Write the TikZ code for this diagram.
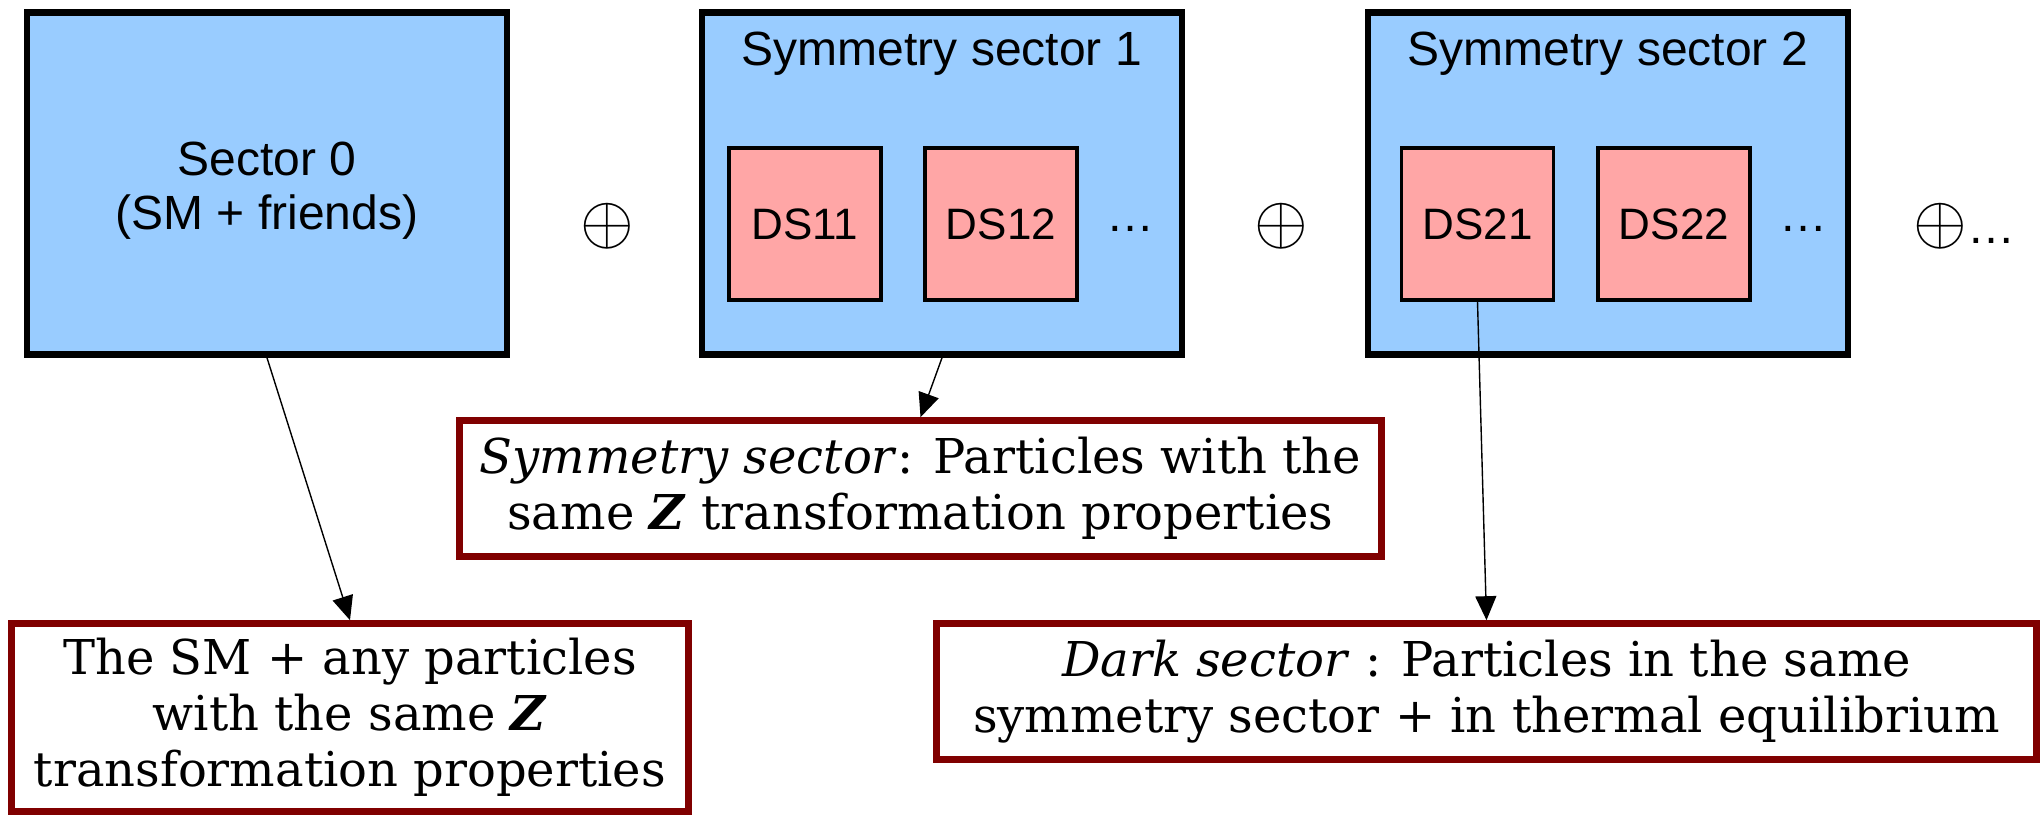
\documentclass[tikz,border=0pt]{standalone}
\usepackage{fontspec}
\setmainfont{DejaVu Serif}
\setsansfont{Liberation Sans}
\usepackage{graphicx}
\usepackage{tikz}
\usetikzlibrary{arrows.meta,positioning}
\usepackage{xcolor}
\definecolor{sectorblue}{HTML}{99CCFF}
\definecolor{dspink}{HTML}{FFA6A6}
\definecolor{notered}{HTML}{800000}
\newcommand{\bigsum}{\scalebox{3.45}{$\oplus$}}
\tikzset{
  sectorbox/.style={draw,line width=3.3pt,fill=sectorblue,minimum width=240pt,minimum height=171pt},
  sectortext/.style={align=center,font=\sffamily\fontsize{24}{27}\selectfont},
  dsbox/.style={draw,line width=1.6pt,fill=dspink,minimum width=76pt,minimum height=76pt,
    font=\sffamily\fontsize{22}{24}\selectfont},
  notebox/.style={draw=notered,line width=3.3pt,fill=white,align=center,
    font=\fontsize{24}{28}\selectfont},
  arr/.style={-{Triangle[length=12pt,width=10.5pt]},line width=0.7pt}
}

\begin{document}
\begin{tikzpicture}[x=0.5pt,y=-0.5pt]
\useasboundingbox (0,0) rectangle (2044,818);
% sectors
\node[sectorbox] (sec0) at (267,183.5) {};
\node[sectorbox] (sec1) at (942,183.5) {};
\node[sectorbox] (sec2) at (1608,183.5) {};
\node[sectortext] (title0) at (267,191) {Sector 0\\(SM + friends)};
\node[sectortext] (title1) at (942,54) {Symmetry sector 1};
\node[sectortext] (title2) at (1608,54) {Symmetry sector 2};
% dark sectors
\node[dsbox] (ds11) at (805,224) {DS11};
\node[dsbox] (ds12) at (1001,224) {DS12};
\node[dsbox] (ds21) at (1477.5,224) {DS21};
\node[dsbox] (ds22) at (1674,224) {DS22};
\node[sectortext] (dots1) at (1130,229) {\dots};
\node[sectortext] (dots2) at (1803,229) {\dots};
% direct sums
\node (sum1) at (607,226) {\bigsum};
\node (sum2) at (1281,226) {\bigsum};
\node[anchor=west,inner sep=0pt] (sum3) at (1913,226) {\bigsum\textsf{\fontsize{24}{26}\selectfont\dots}};
% notes
\node[notebox,minimum width=461pt,minimum height=68pt] (note1) at (920.5,488.5)
  {\textit{Symmetry sector}: Particles with the\\same \textbf{\textit{Z}} transformation properties};
\node[notebox,minimum width=338.5pt,minimum height=94pt] (note0) at (350,717.5)
  {The SM + any particles\\with the same \textbf{\textit{Z}}\\transformation properties};
\node[notebox,minimum width=550pt,minimum height=68pt] (note2) at (1486.5,691.5)
  {\textit{Dark sector} : Particles in the same\\symmetry sector + in thermal equilibrium};
\draw[arr] (sec0.south) -- (note0.north);
\draw[arr] (sec1.south) -- (note1.north);
\draw[arr] (ds21.south) -- (note2.north);
\end{tikzpicture}
\end{document}
